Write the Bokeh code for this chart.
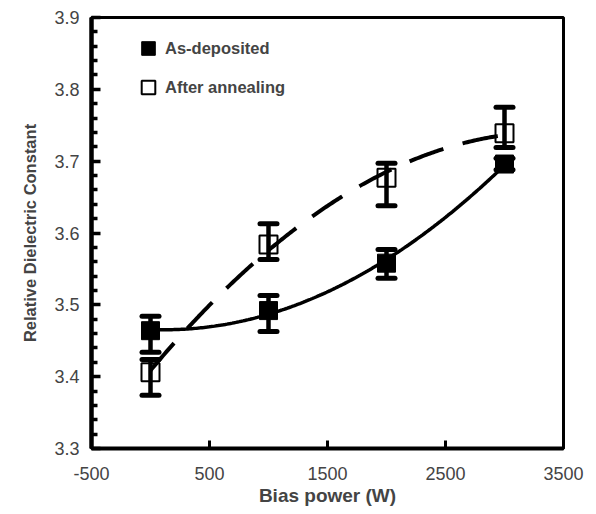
import numpy as np
from bokeh.plotting import figure
from bokeh.models import (ColumnDataSource, Range1d, FixedTicker, Legend, LegendItem)
from bokeh.embed import file_html
from bokeh.resources import INLINE

# ---- data ----
power = [0, 1000, 2000, 3000]
as_dep = [3.464, 3.492, 3.558, 3.696]
as_dep_lower = [3.434, 3.463, 3.537, 3.688]
as_dep_upper = [3.484, 3.513, 3.577, 3.704]
annealed = [3.406, 3.584, 3.677, 3.739]
annealed_lower = [3.374, 3.563, 3.638, 3.719]
annealed_upper = [3.424, 3.613, 3.697, 3.775]
x_min, x_max = -500, 3500
y_min, y_max = 3.3, 3.9
x_ticks = [-500, 500, 1500, 2500, 3500]
y_ticks = [3.3, 3.4, 3.5, 3.6, 3.7, 3.8, 3.9]
y_minor_ticks = [3.32, 3.34, 3.36, 3.38, 3.42, 3.44, 3.46, 3.48, 3.52, 3.54, 3.56, 3.58,
                 3.62, 3.64, 3.66, 3.68, 3.72, 3.74, 3.76, 3.78, 3.82, 3.84, 3.86, 3.88]
series_labels = ["As-deposited", "After annealing"]

# quadratic trend lines fitted to the points
xf = np.linspace(min(power), max(power), 200)
fit_dep = np.polyval(np.polyfit(power, as_dep, 2), xf)
fit_ann = np.polyval(np.polyfit(power, annealed, 2), xf)

src_dep = ColumnDataSource(dict(x=power, y=as_dep, lo=as_dep_lower, hi=as_dep_upper))
src_ann = ColumnDataSource(dict(x=power, y=annealed, lo=annealed_lower, hi=annealed_upper))

p = figure(width=590, height=512, output_backend="svg", toolbar_location=None,
           x_range=Range1d(x_min, x_max), y_range=Range1d(y_min, y_max),
           min_border_left=91, min_border_right=27, min_border_top=17, min_border_bottom=64)
p.grid.visible = False
p.outline_line_color = "black"
p.outline_line_width = 3

# axes (default sans-serif font)
xa = p.xaxis[0]
xa.ticker = FixedTicker(ticks=x_ticks)
xa.major_tick_in = 8
xa.major_tick_out = 0
xa.major_tick_line_width = 3
xa.minor_tick_line_color = None
xa.axis_line_width = 4
xa.major_label_overrides = {t: str(t) for t in x_ticks}
xa.major_label_text_font_size = "18px"
xa.major_label_standoff = 18
xa.axis_label = "Bias power (W)"
xa.axis_label_text_font_style = "bold"
xa.axis_label_text_font_size = "19px"
xa.axis_label_standoff = 2

ya = p.yaxis[0]
ya.ticker = FixedTicker(ticks=y_ticks, minor_ticks=y_minor_ticks)
ya.major_tick_in = 9
ya.major_tick_out = 0
ya.minor_tick_in = 6
ya.minor_tick_out = 0
ya.major_tick_line_width = 3.5
ya.minor_tick_line_width = 3.5
ya.axis_line_width = 4.5
ya.major_label_text_font_size = "18px"
ya.major_label_standoff = 12
ya.axis_label = "Relative Dielectric Constant"
ya.axis_label_text_font_style = "bold"
ya.axis_label_text_font_size = "16.5px"
ya.axis_label_standoff = 12

# trend lines
p.line(xf, fit_dep, line_color="black", line_width=3.5)
p.line(xf, fit_ann, line_color="black", line_width=4, line_dash="36 20")

# error bars (stems and caps as glyphs)
for src in (src_dep, src_ann):
    p.segment(x0="x", y0="lo", x1="x", y1="hi", source=src,
              line_color="black", line_width=4.5)
    p.scatter("x", "lo", source=src, marker="dash", size=17,
              line_color="black", line_width=5, line_cap="round")
    p.scatter("x", "hi", source=src, marker="dash", size=17,
              line_color="black", line_width=5, line_cap="round")

# markers
r_dep = p.scatter("x", "y", source=src_dep, marker="square", size=18,
                  fill_color="black", line_color="black", line_width=1)
r_ann = p.scatter("x", "y", source=src_ann, marker="square", size=18,
                  fill_color=None, line_color="black", line_width=2)

legend = Legend(items=[LegendItem(label=series_labels[0], renderers=[r_dep]),
                       LegendItem(label=series_labels[1], renderers=[r_ann])],
                location=(40, 344), glyph_width=34, glyph_height=34, label_standoff=0,
                spacing=5, padding=0, margin=0, border_line_color=None,
                background_fill_alpha=0,
                label_text_font_style="bold", label_text_font_size="16.5px")
p.add_layout(legend)

open("out.html", "w").write(file_html(p, INLINE))
